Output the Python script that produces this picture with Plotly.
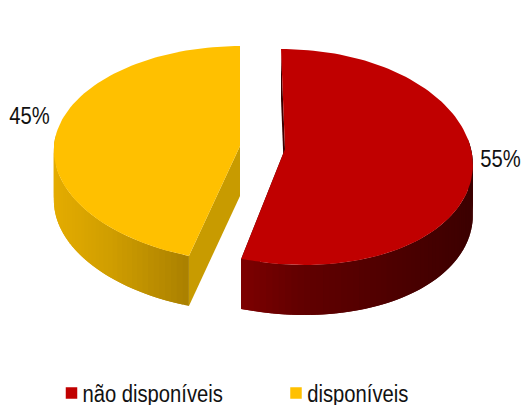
import math
import plotly.graph_objects as go

# Data
categories = ["não disponíveis", "disponíveis"]
values = [55, 45]
value_labels = ["55%", "45%"]
top_colors = ["#C00000", "#FFC000"]

# Appearance of the extruded pie (pixel space of the 523x405 page)
W, H = 523, 405
RX, RY, K, DEPTH = 186, 107.4, 0.074, 50
SLICE_GEOM = [
    dict(cx=285, cy=149, a=-11.65, b=7.65),
    dict(cx=240, cy=146, a=-5.8, b=5.8),
]
WALL_STOPS = [
    [(241, (125, 0, 0)), (300, (98, 0, 0)), (400, (76, 0, 0)), (472, (60, 0, 0))],
    [(54, (228, 172, 0)), (110, (208, 158, 0)), (189, (170, 128, 0))],
]
INNER_COLORS = ["#3C0000", "#C89B00"]


def project_uv(g, u, v):
    w = 1 + K * v
    return g["cx"] + RX * u / w + g["a"] * v + g["b"] * v * v, g["cy"] - RY * v / w


def project(g, frac):
    th = 2 * math.pi * frac
    return project_uv(g, math.sin(th), math.cos(th))


def wall_color(stops, x):
    c = stops[0][1] if x <= stops[0][0] else stops[-1][1]
    for (x0, c0), (x1, c1) in zip(stops, stops[1:]):
        if x0 <= x <= x1:
            t = (x - x0) / (x1 - x0)
            c = tuple(c0[i] + t * (c1[i] - c0[i]) for i in range(3))
            break
    return "rgb(%d,%d,%d)" % tuple(round(p) for p in c)


def poly(xs, ys, color):
    return go.Scatter(
        x=list(xs) + [xs[0]], y=list(ys) + [ys[0]], mode="lines", fill="toself",
        fillcolor=color, line=dict(color=color, width=0), hoverinfo="skip", showlegend=False,
    )


fig = go.Figure()
total = sum(values)
starts = [sum(values[:i]) / total for i in range(len(values))]

for i in [1, 0]:
    g = SLICE_GEOM[i]
    f0, f1 = starts[i], starts[i] + values[i] / total
    n = max(2, values[i] * 2)
    fr = [f0 + (f1 - f0) * k / n for k in range(n + 1)]
    pts = [project(g, f) for f in fr]
    apex = project_uv(g, 0, 0)
    # flat cut walls
    for e in (pts[0], pts[-1]):
        fig.add_trace(poly([apex[0], e[0], e[0], apex[0]],
                           [apex[1], e[1], e[1] + DEPTH, apex[1] + DEPTH], INNER_COLORS[i]))
    # outer curved wall: shaded strips, each overlapping the next so no seams show
    for k in range(n):
        if math.cos(2 * math.pi * (fr[k] + fr[k + 1]) / 2) > 0.1:
            continue
        run = pts[k:k + 3]
        col = wall_color(WALL_STOPS[i], (pts[k][0] + pts[k + 1][0]) / 2)
        xs = [p[0] for p in run] + [p[0] for p in reversed(run)]
        ys = [p[1] for p in run] + [p[1] + DEPTH for p in reversed(run)]
        fig.add_trace(poly(xs, ys, col))
    # top face
    fig.add_trace(poly([apex[0]] + [p[0] for p in pts], [apex[1]] + [p[1] for p in pts],
                       top_colors[i]))

FONT = "Liberation Sans, Arial, sans-serif"
# Legend: squares as markers, names as text
fig.add_trace(go.Scatter(
    x=[71.5, 296], y=[393, 393], mode="markers",
    marker=dict(symbol="square", size=11.5, color=top_colors, line=dict(width=0)),
    hoverinfo="skip", showlegend=False,
))
annotations = []
for name, xp in zip(categories, [152.5, 358]):
    annotations.append(dict(x=xp, y=394, text=name, xanchor="center", yanchor="middle",
                            showarrow=False, xref="x", yref="y"))
for lab, (xp, yp) in zip(value_labels, [(500.5, 159), (29.5, 116)]):
    annotations.append(dict(x=xp, y=yp, text=lab, xanchor="center", yanchor="middle",
                            showarrow=False, xref="x", yref="y"))

fig.update_layout(
    width=W, height=H, margin=dict(l=0, r=0, t=0, b=0),
    paper_bgcolor="white", plot_bgcolor="white", showlegend=False,
    font=dict(family=FONT, size=23.5, color="#111111"),
    annotations=annotations,
    xaxis=dict(range=[0, W], visible=False, fixedrange=True),
    yaxis=dict(range=[H, 0], visible=False, fixedrange=True),
)
# Remove the page margin; the reference's type is horizontally condensed.
post = """
document.body.style.margin = '0';
document.querySelectorAll('.annotation-text').forEach(function (t) {
  var w = t.getComputedTextLength();
  t.setAttribute('lengthAdjust', 'spacingAndGlyphs');
  t.setAttribute('textLength', String(w * 0.86));
});
"""
fig.write_html("out.html", config=dict(displayModeBar=False), post_script=post)
